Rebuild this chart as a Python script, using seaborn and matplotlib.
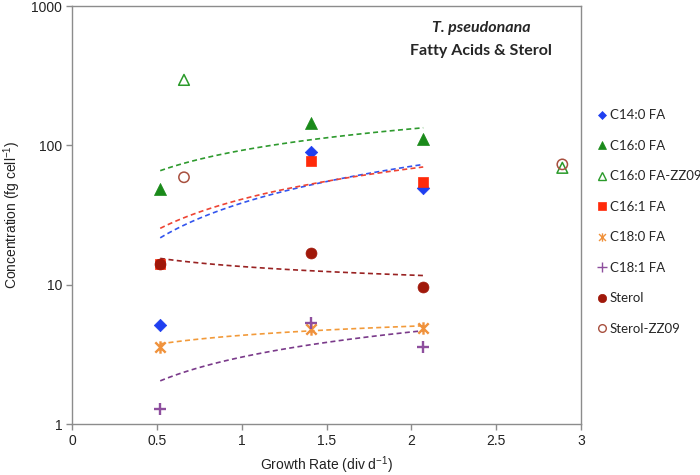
import numpy as np
import pandas as pd
import matplotlib
matplotlib.use("Agg")
import matplotlib.pyplot as plt
import seaborn as sns
from matplotlib.path import Path
from matplotlib.lines import Line2D

# ---------------- data ----------------
growth = [0.52, 1.41, 2.07]
zz09_growth = [0.66, 2.89]

c14_0 = [5.1, 90, 49]
c16_0 = [48.5, 145, 111]
c16_0_zz09 = [295, 69]
c16_1 = [14.1, 77, 55]
c18_0 = [3.57, 4.8, 4.9]
c18_1 = [1.28, 5.3, 3.57]
sterol = [14.1, 16.9, 9.6]
sterol_zz09 = [59, 73]

# power-law trendlines  y = a * x^b  (Excel style)
trend_names = ["C16:0 FA", "C14:0 FA", "C16:1 FA", "Sterol", "C18:0 FA", "C18:1 FA"]
trend_a = [92.0, 38.5, 41.0, 13.5, 4.33, 3.02]
trend_b = [0.513, 0.878, 0.734, -0.205, 0.216, 0.60]

x_ticks = [0, 0.5, 1, 1.5, 2, 2.5, 3]
x_tick_labels = ["0", "0.5", "1", "1.5", "2", "2.5", "3"]
y_ticks = [1, 10, 100, 1000]
y_tick_labels = ["1", "10", "100", "1000"]

# ---------------- style ----------------
sns.set_theme(style="white")
plt.rcParams["font.family"] = ["Liberation Sans", "DejaVu Sans"]
plt.rcParams["mathtext.default"] = "regular"

asterisk = Path([(-1, -1), (1, 1), (-1, 1), (1, -1), (0, -1.2), (0, 1.2)],
                [Path.MOVETO, Path.LINETO, Path.MOVETO, Path.LINETO, Path.MOVETO, Path.LINETO])

series = [
    # name, x, y, marker, size, face, edge, lw, legend size
    ("C14:0 FA", growth, c14_0, "D", 40, "#1f3ff0", "#1f3ff0", 0.5, 4.5),
    ("C16:0 FA", growth, c16_0, "^", 75, "#1a8a1a", "#1a8a1a", 0.5, 6),
    ("C16:0 FA-ZZ09", zz09_growth, c16_0_zz09, "^", 60, "none", "#2a9a2a", 1.1, 5.5),
    ("C16:1 FA", growth, c16_1, "s", 60, "#ff2a0a", "#ff2a0a", 0.5, 5.5),
    ("C18:0 FA", growth, c18_0, asterisk, 80, "#f0923c", "#f0923c", 1.7, 6),
    ("C18:1 FA", growth, c18_1, "+", 85, "#8e4f9e", "#8e4f9e", 1.7, 6.5),
    ("Sterol", growth, sterol, "o", 62, "#a0180a", "#a0180a", 0.5, 6),
    ("Sterol-ZZ09", zz09_growth, sterol_zz09, "o", 55, "none", "#a8503f", 1.1, 5.5),
]
trend_colors = {"C16:0 FA": "#2e9a2e", "C14:0 FA": "#3355ee", "C16:1 FA": "#ee4433",
                "Sterol": "#992222", "C18:0 FA": "#f29a3a", "C18:1 FA": "#7a3a8a"}

fig = plt.figure(figsize=(7.0, 4.75), dpi=100)
ax = fig.add_axes([72 / 700, 1 - 424 / 475, (581 - 72) / 700, (424 - 6) / 475])

# trendlines
tx = np.linspace(min(growth), max(growth), 60)
for name, a, b in zip(trend_names, trend_a, trend_b):
    df_t = pd.DataFrame({"x": tx, "y": a * tx ** b})
    sns.lineplot(data=df_t, x="x", y="y", ax=ax, color=trend_colors[name],
                 linewidth=1.2, linestyle=(0, (3, 2)), legend=False)

# markers
handles = []
for name, xs, ys, m, s, fc, ec, lw, ls in series:
    df = pd.DataFrame({"x": xs, "y": ys})
    sns.scatterplot(data=df, x="x", y="y", ax=ax, marker=m, s=s,
                    facecolor=fc, edgecolor=ec, linewidth=lw, zorder=3, legend=False)
    handles.append(Line2D([0], [0], linestyle="none", marker=m, markersize=ls,
                          markerfacecolor=fc, markeredgecolor=ec,
                          markeredgewidth=(1.0 if (fc == "none" or lw > 1) else 0.5), label=name))

ax.set_yscale("log")
ax.set_xlim(0, 3)
ax.set_ylim(1, 1000)
ax.set_xticks(x_ticks)
ax.set_xticklabels(x_tick_labels)
ax.set_yticks(y_ticks)
ax.set_yticklabels(y_tick_labels)
ax.yaxis.set_minor_locator(matplotlib.ticker.NullLocator())

for sp in ax.spines.values():
    sp.set_color("#8c8c8c")
    sp.set_linewidth(1.0)
ax.tick_params(axis="both", which="major", direction="out", length=4, width=1,
               color="#8c8c8c", labelsize=10, labelcolor="#222222", pad=3,
               left=True, bottom=True)

ax.set_xlabel(r"Growth Rate (div d$^{-1}$)", fontsize=10, color="#222222", labelpad=5)
ax.set_ylabel(r"Concentration (fg cell$^{-1}$)", fontsize=10, color="#222222", labelpad=6)

ax.text(0.804, 0.947, "T. pseudonana", transform=ax.transAxes, ha="center", va="center",
        fontsize=11.5, fontweight="bold", fontstyle="italic", family=["Lato", "DejaVu Sans"])
ax.text(0.804, 0.893, "Fatty Acids & Sterol", transform=ax.transAxes, ha="center", va="center",
        fontsize=11.5, fontweight="bold", family=["Lato", "DejaVu Sans"])

leg = fig.legend(handles=handles, loc="center left", bbox_to_anchor=(597 / 700, 1 - 222 / 475),
                 frameon=False, handlelength=0.7, handletextpad=0.25,
                 labelspacing=1.4, borderpad=0, borderaxespad=0,
                 prop={"family": ["Lato", "DejaVu Sans"], "size": 9.5})

fig.savefig("out.png", dpi=100)
